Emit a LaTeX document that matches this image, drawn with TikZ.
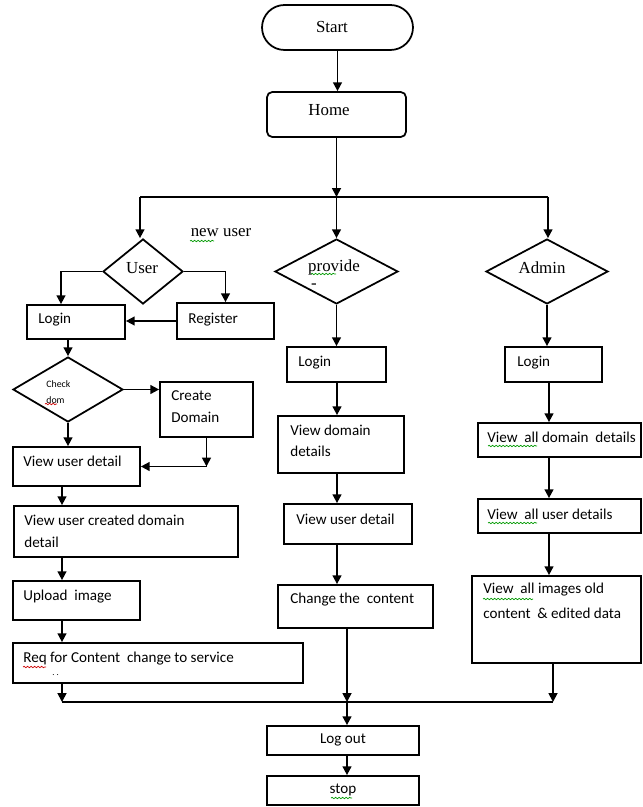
\documentclass[tikz,border=0pt]{standalone}
\usepackage{fontspec}
\setmainfont{Carlito}
\newfontfamily\serifR{Liberation Serif}
\usetikzlibrary{shapes.geometric,arrows.meta,decorations.pathmorphing}
\tikzset{
  box/.style={draw, line width=1pt, rectangle, inner sep=0pt},
  dia/.style={draw, line width=1pt, diamond, inner sep=0pt, minimum height=1.3cm},
  txt/.style={font=\fontsize{8.6}{10}\selectfont, inner sep=0pt, anchor=west},
  stxt/.style={font=\serifR\fontsize{9.6}{11}\selectfont, inner sep=0pt},
  arr/.style={line width=1pt, -{Triangle[length=5pt,width=5pt]}},
  ln/.style={line width=1pt},
  wavyg/.style={draw=green!60!black, line width=0.4pt, decorate, decoration={snake, amplitude=0.4pt, segment length=2pt}},
  wavyr/.style={draw=red!80!black, line width=0.4pt, decorate, decoration={snake, amplitude=0.4pt, segment length=2pt}}
}
\begin{document}
\begin{tikzpicture}[x=0.02cm, y=-0.02cm]
\useasboundingbox (0,0) rectangle (642,807);
% column coordinates
\coordinate (colL) at (62,0);
\coordinate (colP) at (337,0);
\coordinate (colP2) at (347,0);
\coordinate (colA) at (549,0);
% top
\node[box, rounded corners=0.45cm, minimum width=3.02cm, minimum height=0.9cm] (start) at (337.5,27.5) {};
\node[stxt] (tstart) at (332,27) {Start};
\node[box, rounded corners=3pt, minimum width=2.78cm, minimum height=0.9cm] (home) at (336.5,114.5) {};
\node[stxt] (thome) at (329,110) {Home};
% diamonds
\node[dia, minimum width=1.6cm] (user) at (143,271.5) {};
\node[stxt] (tuser) at (142,268) {User};
\node[dia, minimum width=2.46cm] (prov) at (336.5,271.5) {};
\node[stxt] (tprov) at (334,267) {provide};
\node[stxt] (tprovd) at (314,286) {-};
\node[dia, minimum width=2.44cm] (admin) at (547,271.5) {};
\node[stxt] (tadmin) at (542,268) {Admin};
\node[stxt] (newuser) at (221,233) {new user};
% user column
\node[box, minimum width=1.96cm, minimum height=0.68cm] (login1) at (76,322) {};
\node[txt] at (38,320) {Login};
\node[box, minimum width=1.94cm, minimum height=0.72cm] (reg) at (225.5,321) {};
\node[txt] at (188,320) {Register};
\node[dia, minimum width=2.2cm] (check) at (68,389.5) {};
\node[txt, font=\fontsize{5.6}{6}\selectfont] at (46,384) {Check};
\node[txt, font=\fontsize{5.6}{6}\selectfont] at (46,400) {dom};
\node[box, minimum width=1.86cm, minimum height=1.1cm] (create) at (206.5,409.5) {};
\node[txt] at (171,396) {Create};
\node[txt] at (171,417) {Domain};
\node[box, minimum width=2.54cm, minimum height=0.78cm] (vud1) at (76.5,466.5) {};
\node[txt] at (23,461) {View user detail};
\node[box, minimum width=4.48cm, minimum height=1.02cm] (vucdd) at (126,531.5) {};
\node[txt] at (24,520) {View user created domain};
\node[txt] at (24,542) {detail};
\node[box, minimum width=2.54cm, minimum height=0.78cm] (upload) at (76.5,600.5) {};
\node[txt] at (23,597) {Upload\ \ image};
\node[box, minimum width=5.8cm, minimum height=0.8cm] (req) at (158,663) {};
\node[txt] at (23,659) {Req for Content\ \ change to service};
\node[txt, font=\fontsize{5}{6}\selectfont] at (52,675) {.\ .};
% provider column
\node[box, minimum width=1.98cm, minimum height=0.7cm] (plogin) at (336.5,364.5) {};
\node[txt] at (298,363) {Login};
\node[box, minimum width=2.52cm, minimum height=1.14cm] (vdd) at (341,444.5) {};
\node[txt] at (290,430) {View domain};
\node[txt] at (290,451) {details};
\node[box, minimum width=2.56cm, minimum height=0.8cm] (vud2) at (348,524) {};
\node[txt] at (296,519) {View user detail};
\node[box, minimum width=3.1cm, minimum height=0.86cm] (change) at (355.5,606.5) {};
\node[txt] at (290,600) {Change the\ \ content};
% admin column
\node[box, minimum width=1.94cm, minimum height=0.7cm] (alogin) at (553.5,364.5) {};
\node[txt] at (517,363) {Login};
\node[box, minimum width=3.26cm, minimum height=0.68cm] (vadd) at (559.5,440) {};
\node[txt] at (487,437) {View\ \ all domain\ \ details};
\node[box, minimum width=3.26cm, minimum height=0.68cm] (vaud) at (559.5,516) {};
\node[txt] at (487,514) {View\ \ all user details};
\node[box, minimum width=3.38cm, minimum height=1.74cm] (vai) at (556.5,619.5) {};
\node[txt] at (483,590) {View\ \ all images old};
\node[txt] at (483,613) {content\ \ \& edited\ data};
% bottom
\node[box, minimum width=3.04cm, minimum height=0.58cm] (logout) at (343,740.5) {};
\node[txt, anchor=center] at (343,740) {Log out};
\node[box, minimum width=3.04cm, minimum height=0.58cm] (stop) at (343,790.5) {};
\node[txt, anchor=center] at (343,790) {stop};
% spell-check marks
\draw[wavyg] (190,241) -- (214,241);
\draw[wavyg] (311,274) -- (336,274);
\draw[wavyg] (488,446) -- (537,446);
\draw[wavyg] (488,523) -- (537,523);
\draw[wavyg] (483,599) -- (533,599);
\draw[wavyg] (331,798) -- (352,798);
\draw[wavyr] (23,667) -- (46,667);
\draw[wavyr] (45,404) -- (57,404);
% connectors top
\coordinate (jC) at (333,197);
\coordinate (jL) at (140,197);
\coordinate (jR) at (548,197);
\draw[arr] (start.south) -- (start.south |- home.north);
\draw[arr] (home.south) -- (home.south |- jC);
\draw[ln] (jL) -- (jR);
\draw[arr] (jL) -- (jL |- user.north);
\draw[arr] (jC -| prov.north) -- (prov.north);
\draw[arr] (jR) -- (jR |- admin.north);
% user column connectors
\coordinate (uL) at (61,0);
\draw[arr] (user.west) -| (login1.north -| uL);
\draw[arr] (user.east) -| (reg.north);
\draw[arr] (reg.west) -- (reg.west -| login1.east);
\draw[arr] (check.north |- login1.south) -- (check.north);
\draw[arr] (check.east) -- (check.east -| create.west);
\draw[arr] (check.south) -- (check.south |- vud1.north);
\coordinate (c1) at (create.south |- vud1.east);
\draw[arr] (create.south) -- (c1);
\draw[arr] (c1) -- (vud1.east);
\draw[arr] (vud1.south -| colL) -- (vucdd.north -| colL);
\draw[arr] (vucdd.south -| colL) -- (upload.north -| colL);
\draw[arr] (upload.south -| colL) -- (req.north -| colL);
% provider connectors
\draw[arr] (prov.south) -- (prov.south |- plogin.north);
\draw[arr] (plogin.south -| colP) -- (vdd.north -| colP);
\draw[arr] (vdd.south -| colP) -- (vud2.north -| colP);
\draw[arr] (vud2.south -| colP) -- (change.north -| colP);
% admin connectors
\draw[arr] (admin.south) -- (admin.south |- alogin.north);
\draw[arr] (alogin.south -| colA) -- (vadd.north -| colA);
\draw[arr] (vadd.south -| colA) -- (vaud.north -| colA);
\draw[arr] (vaud.south -| colA) -- (vai.north -| colA);
% merge
\coordinate (mL) at (62,702);
\coordinate (mR) at (553,702);
\coordinate (mP) at (347,702);
\draw[ln] (mL) -- (mR);
\draw[arr] (req.south -| mL) -- (mL);
\draw[arr] (change.south -| mP) -- (mP);
\draw[arr] (vai.south -| mR) -- (mR);
\draw[arr] (mP) -- (logout.north -| mP);
\draw[arr] (logout.south -| mP) -- (stop.north -| mP);
\end{tikzpicture}
\end{document}
